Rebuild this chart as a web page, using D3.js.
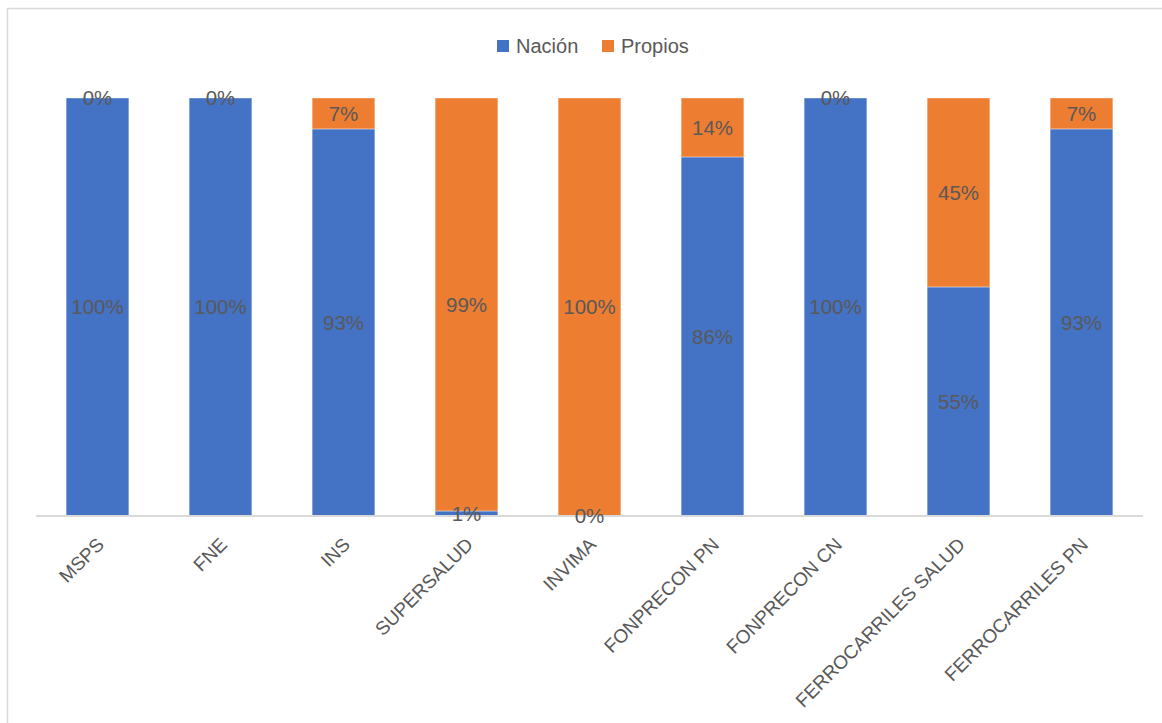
<!DOCTYPE html>
<html>
<head>
    <meta charset="utf-8">
    <title>Nación vs Propios</title>
    <script src="https://d3js.org/d3.v7.min.js"></script>
    <style>
        body { margin: 0; background: #fff; }
        text { font-family: "Liberation Sans", "DejaVu Sans", sans-serif; fill: #595959; }
    </style>
</head>
<body>
    <script>
        const categories = ['MSPS', 'FNE', 'INS', 'SUPERSALUD', 'INVIMA', 'FONPRECON PN', 'FONPRECON CN', 'FERROCARRILES SALUD', 'FERROCARRILES PN'];
        const nacion = [100, 100, 92.6, 1.2, 0, 85.9, 100, 54.8, 92.6];
        const propios = [0, 0, 7.4, 98.8, 100, 14.1, 0, 45.2, 7.4];
        const seriesNames = ['Nación', 'Propios'];
        const colors = ['#4472c4', '#ed7d31'];

        const width = 1162, height = 723;
        const svg = d3.select('body').append('svg')
            .attr('width', width)
            .attr('height', height);

        // chart frame (right and bottom edges run off the picture)
        svg.append('rect')
            .attr('x', 7.5).attr('y', 8.5)
            .attr('width', width + 20).attr('height', height + 20)
            .attr('fill', 'none')
            .attr('stroke', '#d9d9d9')
            .attr('stroke-width', 1.5);

        const margin = { left: 36, right: 19, top: 98, bottom: 207 };
        const x = d3.scaleBand()
            .domain(categories)
            .range([margin.left, width - margin.right])
            .paddingInner(0.49)
            .paddingOuter(0.245);
        const y = d3.scaleLinear()
            .domain([0, 100])
            .range([height - margin.bottom, margin.top]);

        const rows = categories.map((c, i) => ({ cat: c, 'Nación': nacion[i], 'Propios': propios[i] }));
        const stack = d3.stack().keys(seriesNames)(rows);

        const fmt = v => d3.format('.0f')(v) + '%';

        const layers = svg.append('g').selectAll('g')
            .data(stack)
            .enter().append('g')
            .attr('fill', (d, i) => colors[i]);

        layers.selectAll('rect')
            .data(d => d)
            .enter().append('rect')
            .attr('x', d => x(d.data.cat))
            .attr('width', x.bandwidth())
            .attr('y', d => y(d[1]))
            .attr('height', d => y(d[0]) - y(d[1]))
            .attr('stroke', '#ffffff')
            .attr('stroke-opacity', 0.5)
            .attr('stroke-width', 0.75);

        // axis line
        svg.append('line')
            .attr('x1', margin.left).attr('x2', width - margin.right)
            .attr('y1', y(0)).attr('y2', y(0))
            .attr('stroke', '#d9d9d9')
            .attr('stroke-width', 2);

        // data labels, on top of the axis line
        svg.append('g').selectAll('g')
            .data(stack)
            .enter().append('g')
            .selectAll('text')
            .data(d => d)
            .enter().append('text')
            .attr('x', d => x(d.data.cat) + x.bandwidth() / 2)
            .attr('y', d => (y(d[0]) + y(d[1])) / 2)
            .attr('dy', '0.36em')
            .attr('text-anchor', 'middle')
            .attr('font-size', 20.5)
            .text(d => fmt(d[1] - d[0]));

        // category labels
        svg.append('g').selectAll('text')
            .data(categories)
            .enter().append('text')
            .attr('transform', d => `translate(${x(d) + x.bandwidth() / 2 + 3}, ${y(0) + 25}) rotate(-45)`)
            .attr('text-anchor', 'end')
            .attr('dy', '0.35em')
            .attr('font-size', 19)
            .text(d => d);

        // legend
        const legend = svg.append('g');
        const legendX = [497, 602];
        seriesNames.forEach((name, i) => {
            legend.append('rect')
                .attr('x', legendX[i]).attr('y', 40)
                .attr('width', 12).attr('height', 12)
                .attr('fill', colors[i]);
            legend.append('text')
                .attr('x', legendX[i] + 19).attr('y', 52.5)
                .attr('font-size', 20)
                .text(name);
        });
    </script>
</body>
</html>
